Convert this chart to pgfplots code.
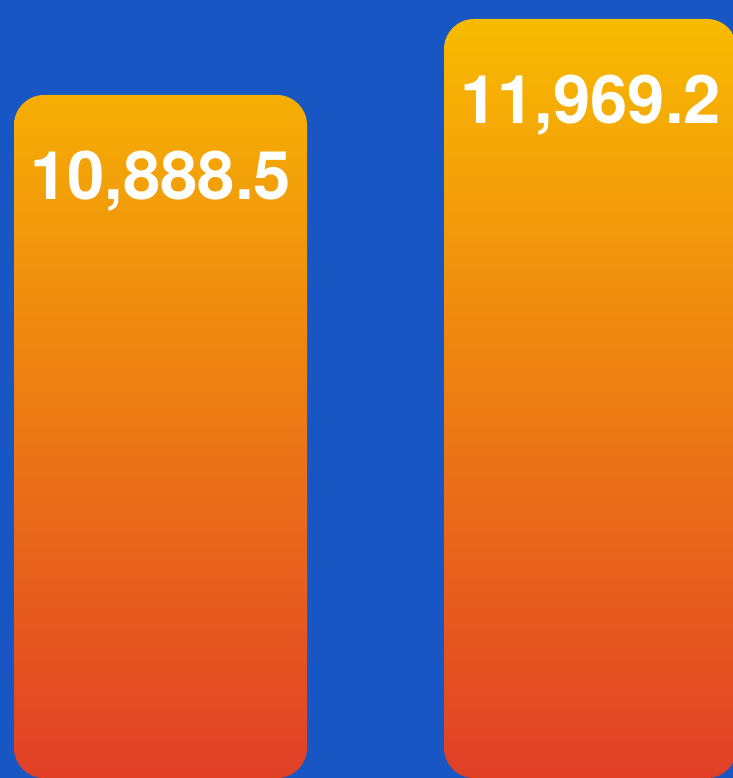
\documentclass[border=0pt]{standalone}
\usepackage{fontspec}
\setmainfont{TeX Gyre Heros}
\usepackage{pgfplots}
\pgfplotsset{compat=1.18}
\definecolor{bgblue}{HTML}{1756C3}
\definecolor{barTop}{HTML}{F8BB00}
\definecolor{barMid}{HTML}{EE8816}
\definecolor{barBot}{HTML}{E13F27}

\begin{document}
\begin{tikzpicture}
\fill[bgblue] (0,0) rectangle (366.5pt,389pt);
\begin{axis}[
  at={(0,0)},anchor=south west,
  scale only axis,width=366.5pt,height=389pt,
  hide axis,
  xmin=-0.3733,xmax=1.3314,
  ymin=71.4,ymax=11134.4,
  ybar,bar width=146.5pt,
  y filter/.expression={y-1105},
  point meta=rawy,
  nodes near coords,
  nodes near coords style={
    anchor=north,inner sep=0pt,yshift=-28pt,text=white,
    font=\fontsize{33.5}{33.5}\selectfont\bfseries},
  /pgf/number format/.cd,fixed,precision=1,fixed zerofill,1000 sep={,},
  assume math mode=true]
\addplot[draw=none,top color=barTop,middle color=barMid,bottom color=barBot,
  rounded corners=15pt]
  coordinates{(0,10888.5)(1,11969.2)};
\end{axis}
\pgfresetboundingbox
\useasboundingbox (0,0) rectangle (366.5pt,389pt);
\end{tikzpicture}
\end{document}
